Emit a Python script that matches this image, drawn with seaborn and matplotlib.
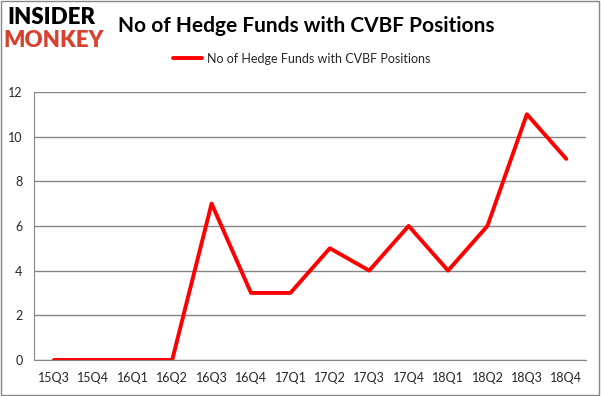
import numpy as np
import pandas as pd
import seaborn as sns
import matplotlib.pyplot as plt
from matplotlib.patches import Rectangle

quarters = ['15Q3', '15Q4', '16Q1', '16Q2', '16Q3', '16Q4', '17Q1',
            '17Q2', '17Q3', '17Q4', '18Q1', '18Q2', '18Q3', '18Q4']
funds = [0, 0, 0, 0, 7, 3, 3, 5, 4, 6, 4, 6, 11, 9]
series_name = 'No of Hedge Funds with CVBF Positions'

df = pd.DataFrame({'Quarter': quarters, 'Funds': funds})
df['pos'] = np.arange(len(quarters))

sns.set_style('white')
plt.rcParams['font.family'] = ['Lato', 'DejaVu Sans']

fig = plt.figure(figsize=(6.01, 3.96), dpi=100)
ax = fig.add_axes([0.057, 0.091, 0.918, 0.677])
sns.lineplot(x='pos', y='Funds', data=df, color='#ff0000', linewidth=2.8,
             label=series_name, ax=ax, sort=False)

ax.set_xlim(-0.5, len(quarters) - 0.5)
ax.set_ylim(0, 12)
ax.set_yticks(range(0, 13, 2))
ax.set_xticks(df['pos'])
ax.set_xticklabels(quarters, fontsize=9)
ax.set_xticks(np.arange(-0.5, len(quarters), 1), minor=True)
ax.tick_params(axis='x', which='major', length=0, pad=9)
ax.tick_params(axis='x', which='minor', length=5, color='#868686', width=1, direction='out')
ax.tick_params(axis='y', length=5, color='#868686', width=1, direction='out', labelsize=9)
ax.grid(axis='y', color='#868686', linewidth=1)
ax.set_axisbelow(True)
for s in ['top', 'right']:
    ax.spines[s].set_visible(False)
for s in ['left', 'bottom']:
    ax.spines[s].set_color('#868686')
ax.set_xlabel('')
ax.set_ylabel('')

ax.legend(loc='lower center', bbox_to_anchor=(0.485, 1.06), frameon=False,
          fontsize=9, handlelength=2.3, handletextpad=0.4)

fig.text(0.51, 0.935, 'No of Hedge Funds with CVBF Positions', ha='center',
         va='center', fontsize=15, fontweight='bold', color='black')
fig.text(0.085, 0.955, 'INSIDER', ha='center', va='center', fontsize=16,
         fontweight='heavy', color='black')
fig.text(0.09, 0.897, 'MONKEY', ha='center', va='center', fontsize=16,
         fontweight='heavy', color='#d8412f')

fig.patches.append(Rectangle((0.002, 0.003), 0.995, 0.994, transform=fig.transFigure,
                             fill=False, edgecolor='#868686', linewidth=1))

plt.savefig('out.png', dpi=100)
